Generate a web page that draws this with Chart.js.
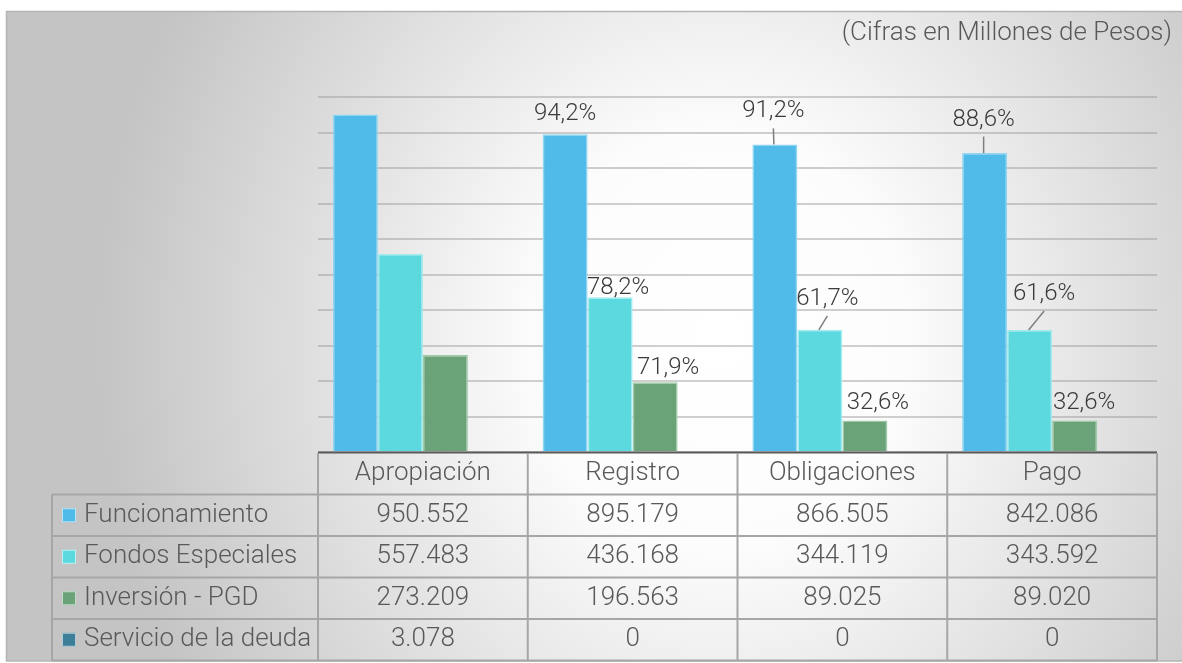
<!DOCTYPE html>
<html><head><meta charset="utf-8">
<script src="https://cdn.jsdelivr.net/npm/chart.js@4.4.0/dist/chart.umd.min.js"></script>
<style>html,body{margin:0;padding:0;background:#fff;overflow:hidden}#c{display:block}</style>
</head><body><canvas id="c" width="1182" height="663"></canvas>
<script>
// ---------- DATA ----------
const categories = ['Apropiación', 'Registro', 'Obligaciones', 'Pago'];
const seriesNames = ['Funcionamiento', 'Fondos Especiales', 'Inversión - PGD', 'Servicio de la deuda'];
const funcionamiento = [950552, 895179, 866505, 842086];
const fondosEspeciales = [557483, 436168, 344119, 343592];
const inversionPGD = [273209, 196563, 89025, 89020];
const servicioDeuda = [3078, 0, 0, 0];
const yMin = 0, yMax = 1000000, yStep = 100000;
const pctFuncionamiento = ['', '94,2%', '91,2%', '88,6%'];
const pctFondos = ['', '78,2%', '61,7%', '61,6%'];
const pctInversion = ['', '71,9%', '32,6%', '32,6%'];
const titleText = '(Cifras en Millones de Pesos)';

// ---------- STYLE ----------
const FONT = 'Roboto, "Open Sans", sans-serif';
const fills = ['#50bae8', '#5bd9df', '#6aa378', '#3d7f99'];
const borders = ['#8fd6f3', '#a0ecef', '#9ecaa8', '#6fa3b8'];
// label offsets relative to bar top centre: [dx, dy, leader]
const labelOffsets = [
  [[0,0,false],[0,-20,false],[-1.5,-33,true],[-1,-33.5,true]],
  [[0,0,false],[8,-9,false],[7.5,-31,true],[14.5,-36,true]],
  [[0,0,false],[13,-14.5,false],[13,-17,false],[9.5,-17,false]]
];
const pctLabels = [pctFuncionamiento, pctFondos, pctInversion];
const seriesData = [funcionamiento, fondosEspeciales, inversionPGD, servicioDeuda];

function fmt(v){ return String(v).replace(/\B(?=(\d{3})+(?!\d))/g, '.'); }

const bgPlugin = {
  id: 'bg',
  beforeDraw(chart){
    const ctx = chart.ctx, W = chart.width, H = chart.height;
    ctx.save();
    ctx.fillStyle = '#ffffff';
    ctx.fillRect(0,0,W,H);
    ctx.save();
    ctx.beginPath(); ctx.rect(6, 11, W-6, 650); ctx.clip();
    const cx = 720, cy = 340, rx = 620, ry = 700;
    ctx.translate(cx, cy);
    ctx.scale(rx/ry, 1);
    const g = ctx.createRadialGradient(0, 0, 0, 0, 0, ry);
    g.addColorStop(0, '#ffffff');
    g.addColorStop(0.3, '#fcfcfc');
    g.addColorStop(1, '#c4c4c4');
    ctx.fillStyle = g;
    ctx.fillRect(-2000, -2000, 4000, 4000);
    ctx.restore();
    ctx.strokeStyle = '#b4b4b4';
    ctx.lineWidth = 1.5;
    ctx.beginPath();
    ctx.moveTo(W, 11.5); ctx.lineTo(6.5, 11.5); ctx.lineTo(6.5, 661); ctx.lineTo(W, 661);
    ctx.stroke();
    // title
    ctx.fillStyle = '#595959';
    ctx.font = '300 26px ' + FONT;
    ctx.textAlign = 'right';
    ctx.textBaseline = 'middle';
    ctx.fillText(titleText, 1172, 33);
    ctx.restore();
  }
};

const labelPlugin = {
  id: 'pctLabels',
  afterDatasetsDraw(chart){
    const ctx = chart.ctx;
    ctx.save();
    const ca = chart.chartArea;
    ctx.strokeStyle = '#5a5a5a';
    ctx.lineWidth = 2;
    ctx.beginPath(); ctx.moveTo(ca.left, ca.bottom+0.5); ctx.lineTo(ca.right, ca.bottom+0.5); ctx.stroke();
    ctx.font = '300 24px ' + FONT;
    ctx.textAlign = 'center';
    ctx.textBaseline = 'middle';
    for (let d = 0; d < pctLabels.length; d++){
      const meta = chart.getDatasetMeta(d);
      for (let i = 0; i < categories.length; i++){
        const txt = pctLabels[d][i];
        if (!txt) continue;
        const bar = meta.data[i];
        const [dx, dy, leader] = labelOffsets[d][i];
        const cx = bar.x + dx, cy = bar.y + dy;
        if (leader){
          ctx.strokeStyle = '#7f7f7f';
          ctx.lineWidth = 1.5;
          ctx.beginPath(); ctx.moveTo(cx, cy + 17); ctx.lineTo(bar.x - 1, bar.y); ctx.stroke();
        }
        ctx.fillStyle = '#3a3a3a';
        ctx.fillText(txt, cx, cy);
      }
    }
    ctx.restore();
  }
};

const tablePlugin = {
  id: 'dataTable',
  afterDraw(chart){
    const ctx = chart.ctx, ca = chart.chartArea, xs = chart.scales.x;
    const n = categories.length;
    const colW = (ca.right - ca.left) / n;
    const top = ca.bottom + 1, headH = 41.5, rowH = 41.5;
    const left = 52;
    const bottom = top + headH + rowH * seriesNames.length;
    ctx.save();
    ctx.strokeStyle = '#a6a6a6';
    ctx.lineWidth = 2;
    ctx.beginPath();
    for (let i = 0; i <= n; i++){
      const x = ca.left + colW * i;
      ctx.moveTo(x, top); ctx.lineTo(x, bottom);
    }
    ctx.moveTo(left, top + headH); ctx.lineTo(left, bottom);
    for (let r = 0; r <= seriesNames.length; r++){
      const y = top + headH + rowH * r;
      ctx.moveTo(left, y); ctx.lineTo(ca.right, y);
    }
    ctx.stroke();
    ctx.font = '300 26px ' + FONT;
    ctx.textBaseline = 'middle';
    ctx.fillStyle = '#595959';
    ctx.textAlign = 'center';
    for (let i = 0; i < n; i++){
      const cx = xs.getPixelForValue(i);
      ctx.fillText(categories[i], cx, top + headH/2);
      for (let r = 0; r < seriesNames.length; r++){
        ctx.fillText(fmt(seriesData[r][i]), cx, top + headH + rowH*r + rowH/2);
      }
    }
    ctx.textAlign = 'left';
    for (let r = 0; r < seriesNames.length; r++){
      const cy = top + headH + rowH*r + rowH/2;
      ctx.fillStyle = fills[r];
      ctx.fillRect(62, cy - 7, 14, 14);
      ctx.strokeStyle = 'rgba(255,255,255,0.6)';
      ctx.lineWidth = 1;
      ctx.strokeRect(62.5, cy - 6.5, 13, 13);
      ctx.fillStyle = '#595959';
      ctx.fillText(seriesNames[r], 84, cy);
    }
    ctx.restore();
  }
};

new Chart(document.getElementById('c'), {
  type: 'bar',
  data: {
    labels: categories,
    datasets: seriesData.map((d, k) => ({
      label: seriesNames[k],
      data: d,
      backgroundColor: fills[k],
      borderColor: borders[k],
      borderWidth: 1.5,
      barPercentage: 1,
      categoryPercentage: 0.858
    }))
  },
  options: {
    responsive: false,
    devicePixelRatio: 1,
    animation: false,
    layout: { padding: { left: 318, right: 25, top: 97, bottom: 211 } },
    plugins: { legend: { display: false }, tooltip: { enabled: false }, title: { display: false } },
    scales: {
      x: { display: false },
      y: {
        min: yMin, max: yMax,
        ticks: { display: false, stepSize: yStep },
        grid: { color: 'rgba(150,150,150,0.45)', lineWidth: 2, drawTicks: false },
        border: { display: false }
      }
    }
  },
  plugins: [bgPlugin, labelPlugin, tablePlugin]
});
</script>
</body></html>
